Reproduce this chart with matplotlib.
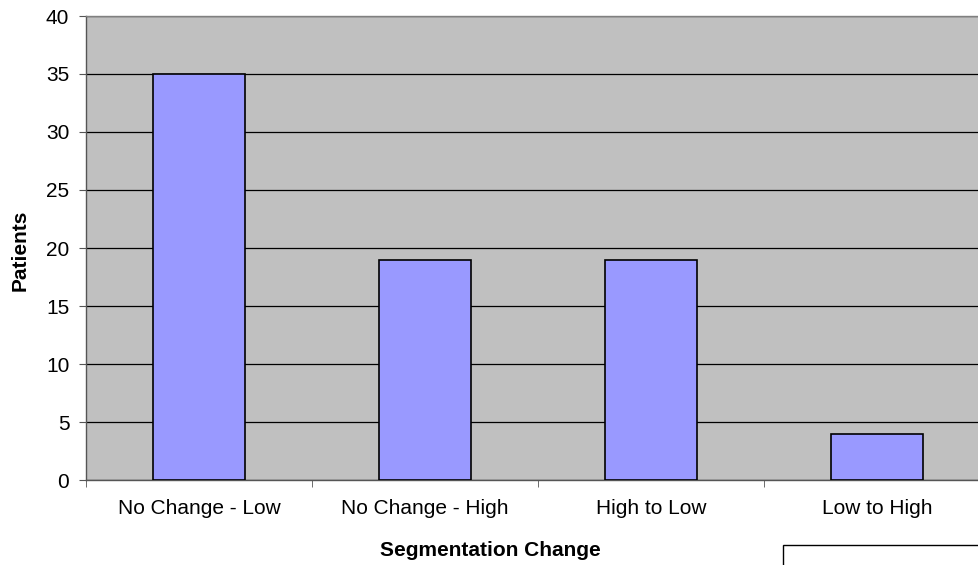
#importing required libraries
import matplotlib.pyplot as plt
from matplotlib.patches import Rectangle

plt.rcParams['font.family'] = ['Liberation Sans', 'DejaVu Sans']

#data
categories = ['No Change - Low', 'No Change - High', 'High to Low', 'Low to High']
patients = [35, 19, 19, 4]
yticks = [0, 5, 10, 15, 20, 25, 30, 35, 40]

W, H = 979, 565
fig = plt.figure(figsize=(W / 100, H / 100), dpi=100)

#plot area (extends a little past the right edge like the original)
left, right, top, bottom = 86, 990, 16, 480
ax = fig.add_axes([left / W, (H - bottom) / H, (right - left) / W, (bottom - top) / H])
ax.set_facecolor('#C0C0C0')

x = list(range(len(categories)))
ax.bar(x, patients, width=0.41, color='#9999FF', edgecolor='black', linewidth=1.2, zorder=3)

ax.set_xlim(-0.5, len(categories) - 0.5)
ax.set_ylim(0, 40)
ax.set_yticks(yticks)
ax.yaxis.grid(True, color='black', linewidth=0.9, zorder=1)

#category labels centered, ticks between categories
ax.set_xticks(x)
ax.set_xticklabels(categories, fontsize=15)
ax.tick_params(axis='x', length=0, pad=14)
ax.set_xticks([i - 0.5 for i in range(len(categories) + 1)], minor=True)
ax.tick_params(axis='x', which='minor', length=5, color='#555555')
ax.tick_params(axis='y', labelsize=15, length=5, color='#555555', pad=7)

for s in ['left', 'bottom', 'top']:
    ax.spines[s].set_color('#555555')
    ax.spines[s].set_linewidth(1.0)
ax.spines['top'].set_color('#808080')
ax.spines['right'].set_visible(False)

fig.text(20 / W, (H - 250) / H, 'Patients', fontsize=15, fontweight='bold',
         rotation=90, ha='center', va='center')
fig.text(490 / W, (H - 550) / H, 'Segmentation Change', fontsize=15,
         fontweight='bold', ha='center', va='center')

#leftover empty box in lower right corner
fig.patches.append(Rectangle((783 / W, -0.05), 0.3, (H - 545) / H + 0.05,
                             transform=fig.transFigure, facecolor='white',
                             edgecolor='black', linewidth=1.0))

#saving the generated plot
fig.savefig('out.png', dpi=100)
